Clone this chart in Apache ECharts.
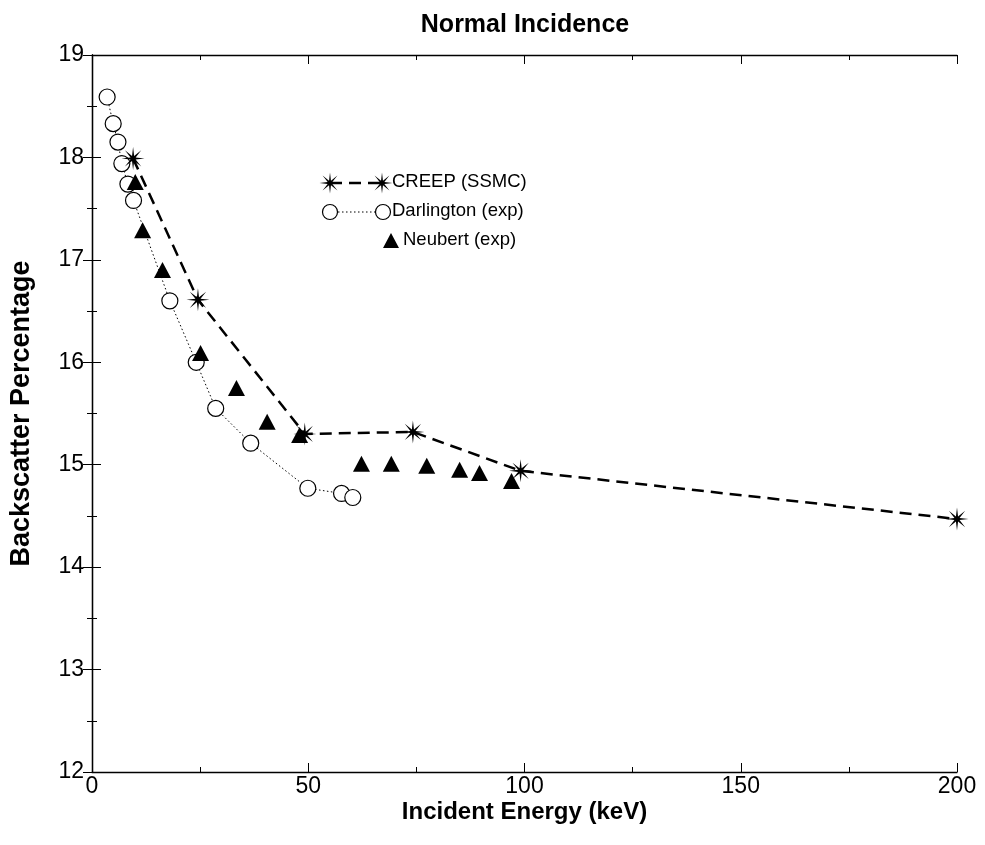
<!DOCTYPE html>
<html>
<head>
<meta charset="utf-8">
<script src="https://cdn.jsdelivr.net/npm/echarts@6/dist/echarts.min.js"></script>
<style>html,body{margin:0;padding:0;background:#fff;}#c{width:985px;height:845px;}</style>
</head>
<body>
<div id="c"></div>
<script>
// ---- data ----
const creepX = [9.5, 24.5, 49.2, 74.2, 99.1, 200];
const creepY = [17.99, 16.61, 15.30, 15.32, 14.94, 14.47];

const darlX = [3.5, 4.9, 6.0, 6.9, 8.3, 9.6, 18.0, 24.1, 28.6, 36.7, 49.9, 57.7, 60.3];
const darlY = [18.59, 18.33, 18.15, 17.94, 17.74, 17.58, 16.60, 16.00, 15.55, 15.21, 14.77, 14.72, 14.68];

const neubX = [10.0, 11.7, 16.3, 25.1, 33.4, 40.5, 48.0, 62.3, 69.2, 77.4, 85.0, 89.6, 97.0];
const neubY = [17.76, 17.29, 16.90, 16.09, 15.75, 15.42, 15.29, 15.01, 15.01, 14.99, 14.95, 14.92, 14.84];

const xTicks = [0, 50, 100, 150, 200];
const yTicks = [12, 13, 14, 15, 16, 17, 18, 19];

const seriesNames = ['CREEP (SSMC)', 'Darlington (exp)', 'Neubert (exp)'];
const titleText = 'Normal Incidence';
const xName = 'Incident Energy (keV)';
const yName = 'Backscatter Percentage';

// ---- styling helpers ----
function starPoints(R, r, n) {
  const pts = [];
  for (let k = 0; k < 2 * n; k++) {
    const a = Math.PI * k / n - Math.PI / 2;
    const rad = k % 2 === 0 ? R : r;
    pts.push([R + rad * Math.cos(a), R + rad * Math.sin(a)]);
  }
  return pts;
}
const sp = starPoints(50, 12, 8);
const starPath = 'path://M' + sp.map(p => p[0].toFixed(2) + ',' + p[1].toFixed(2)).join(' L') + ' Z';

const pair = (xs, ys) => xs.map((x, i) => [x, ys[i]]);
const FONT = '"Liberation Sans", Arial, Helvetica, sans-serif';

const chart = echarts.init(document.getElementById('c'));

const baseAxisLine = { show: true, lineStyle: { color: '#000', width: 1.3 } };
const majorTick = { show: true, inside: true, length: 9, lineStyle: { color: '#000', width: 1 } };
const minorTickAx = { show: true, inside: true, length: 5, lineStyle: { color: '#000', width: 1 } };
const gridBox = { left: 92, right: 28, top: 55, bottom: 73, containLabel: false };

// legend built with graphic elements
const lgX = 330, lgY = 183, lgGap = 29;
function starPoly(cx, cy, R) {
  return starPoints(R, R * 0.24, 8).map(p => [p[0] - R + cx, p[1] - R + cy]);
}
const legendFont = '18.5px ' + FONT;
const legendGraphics = [
  { type: 'line', shape: { x1: lgX, y1: lgY, x2: lgX + 52, y2: lgY }, style: { stroke: '#000', lineWidth: 2.5, lineDash: [12, 7] }, z: 10 },
  { type: 'polygon', shape: { points: starPoly(lgX, lgY, 10.5) }, style: { fill: '#000' }, z: 11 },
  { type: 'polygon', shape: { points: starPoly(lgX + 52, lgY, 10.5) }, style: { fill: '#000' }, z: 11 },
  { type: 'text', left: lgX + 62, top: lgY - 11, style: { text: seriesNames[0], font: legendFont, fill: '#000' }, z: 11 },

  { type: 'line', shape: { x1: lgX, y1: lgY + lgGap, x2: lgX + 53, y2: lgY + lgGap }, style: { stroke: '#000', lineWidth: 1, lineDash: [1.5, 2.5] }, z: 10 },
  { type: 'circle', shape: { cx: lgX, cy: lgY + lgGap, r: 7.5 }, style: { fill: '#fff', stroke: '#000', lineWidth: 1.2 }, z: 11 },
  { type: 'circle', shape: { cx: lgX + 53, cy: lgY + lgGap, r: 7.5 }, style: { fill: '#fff', stroke: '#000', lineWidth: 1.2 }, z: 11 },
  { type: 'text', left: lgX + 62, top: lgY + lgGap - 11, style: { text: seriesNames[1], font: legendFont, fill: '#000' }, z: 11 },

  { type: 'polygon', shape: { points: [[lgX + 61, lgY + 2 * lgGap - 8], [lgX + 69, lgY + 2 * lgGap + 7], [lgX + 53, lgY + 2 * lgGap + 7]] }, style: { fill: '#000' }, z: 11 },
  { type: 'text', left: lgX + 73, top: lgY + 2 * lgGap - 11, style: { text: seriesNames[2], font: legendFont, fill: '#000' }, z: 11 }
];

const noLabel = { show: false };
const option = {
  backgroundColor: '#fff',
  animation: false,
  title: {
    text: titleText,
    left: 520, top: 8, textAlign: 'center',
    textStyle: { fontFamily: FONT, fontWeight: 'bold', fontSize: 25, color: '#000' }
  },
  grid: [gridBox, Object.assign({}, gridBox)],
  xAxis: [
    {
      gridIndex: 0, type: 'value', min: 0, max: 200, interval: 50, position: 'bottom',
      name: xName, nameLocation: 'middle', nameGap: 28, nameMoveOverlap: false,
      nameTextStyle: { fontFamily: FONT, fontWeight: 'bold', fontSize: 24, color: '#000' },
      axisLine: baseAxisLine, axisTick: majorTick,
      axisLabel: { fontFamily: FONT, fontSize: 23, color: '#000', margin: 3,
        formatter: v => xTicks.includes(v) ? String(v) : '' },
      splitLine: { show: false }
    },
    {
      gridIndex: 0, type: 'value', min: 0, max: 200, interval: 50, position: 'top',
      axisLine: baseAxisLine, axisTick: majorTick,
      axisLabel: noLabel, splitLine: { show: false }
    },
    {
      gridIndex: 1, type: 'value', min: 0, max: 200, interval: 25, position: 'bottom',
      axisLine: { show: false }, axisTick: minorTickAx, axisLabel: noLabel, splitLine: { show: false }
    },
    {
      gridIndex: 1, type: 'value', min: 0, max: 200, interval: 25, position: 'top',
      axisLine: { show: false }, axisTick: minorTickAx, axisLabel: noLabel, splitLine: { show: false }
    }
  ],
  yAxis: [
    {
      gridIndex: 0, type: 'value', min: 12, max: 19, interval: 1, position: 'left',
      name: yName, nameLocation: 'middle', nameGap: 57, nameRotate: 90, nameMoveOverlap: false,
      nameTextStyle: { fontFamily: FONT, fontWeight: 'bold', fontSize: 27, color: '#000' },
      axisLine: baseAxisLine, axisTick: majorTick,
      axisLabel: { fontFamily: FONT, fontSize: 23, color: '#000', margin: 8,
        formatter: v => yTicks.includes(v) ? String(v) : '' },
      splitLine: { show: false }
    },
    {
      gridIndex: 0, type: 'value', min: 12, max: 19, interval: 1, position: 'right',
      axisLine: baseAxisLine, axisTick: majorTick,
      axisLabel: noLabel, splitLine: { show: false }
    },
    {
      gridIndex: 1, type: 'value', min: 12, max: 19, interval: 0.5, position: 'left',
      axisLine: { show: false }, axisTick: minorTickAx, axisLabel: noLabel, splitLine: { show: false }
    },
    {
      gridIndex: 1, type: 'value', min: 12, max: 19, interval: 0.5, position: 'right',
      axisLine: { show: false }, axisTick: minorTickAx, axisLabel: noLabel, splitLine: { show: false }
    }
  ],
  graphic: legendGraphics,
  series: [
    {
      name: seriesNames[1], type: 'line', data: pair(darlX, darlY),
      xAxisIndex: 0, yAxisIndex: 0,
      symbol: 'circle', symbolSize: 16,
      itemStyle: { color: '#fff', borderColor: '#000', borderWidth: 1.2, opacity: 1 },
      lineStyle: { color: '#000', width: 1, type: [1.5, 2.5] },
      z: 2
    },
    {
      name: seriesNames[2], type: 'scatter', data: pair(neubX, neubY),
      xAxisIndex: 0, yAxisIndex: 0,
      symbol: 'triangle', symbolSize: [17, 16],
      itemStyle: { color: '#000', opacity: 1 },
      z: 3
    },
    {
      name: seriesNames[0], type: 'line', data: pair(creepX, creepY),
      xAxisIndex: 0, yAxisIndex: 0,
      symbol: starPath, symbolSize: 23, symbolKeepAspect: true,
      itemStyle: { color: '#000', opacity: 1 },
      lineStyle: { color: '#000', width: 2.5, type: [12, 7] },
      z: 4
    }
  ]
};
chart.setOption(option);
</script>
</body>
</html>
